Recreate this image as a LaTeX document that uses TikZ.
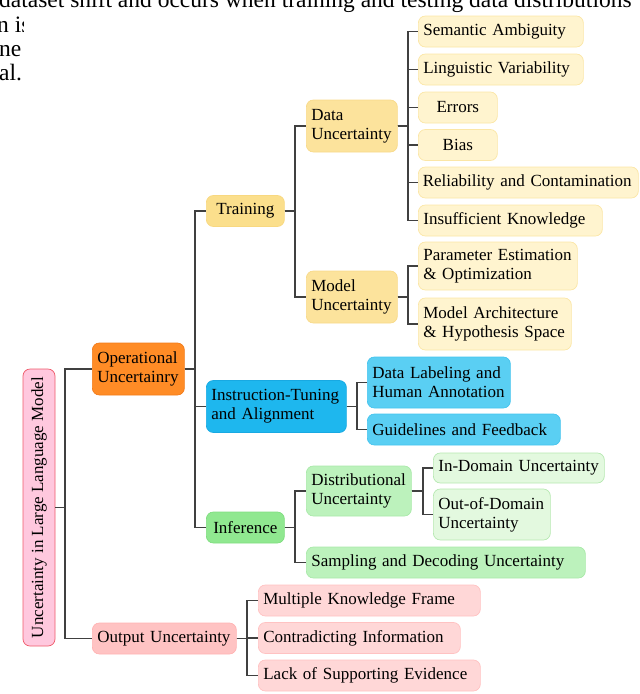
\documentclass[tikz,border=0pt]{standalone}
\usepackage{fontspec}
\setmainfont{Liberation Serif}
\usepackage{graphicx}
\usepackage{tikz}
\usetikzlibrary{positioning}
\definecolor{rootfill}{HTML}{FFC8DE}\definecolor{rootline}{HTML}{EF5A6A}
\definecolor{opfill}{HTML}{FF8C26}\definecolor{opline}{HTML}{F27B1A}
\definecolor{trnfill}{HTML}{FBDF8C}\definecolor{trnline}{HTML}{F8D880}
\definecolor{subfill}{HTML}{FCE39C}\definecolor{subline}{HTML}{F8DA8A}
\definecolor{lffill}{HTML}{FFF4CF}\definecolor{lfline}{HTML}{FBE6A6}
\definecolor{insfill}{HTML}{1EB7EE}\definecolor{insline}{HTML}{18A9E2}
\definecolor{inslffill}{HTML}{5ACFF3}\definecolor{inslfline}{HTML}{45C4EE}
\definecolor{inffill}{HTML}{90E890}\definecolor{infline}{HTML}{7FDD7F}
\definecolor{infsubfill}{HTML}{BCF2BC}\definecolor{infsubline}{HTML}{A9E9A9}
\definecolor{inflffill}{HTML}{E3F9DF}\definecolor{inflfline}{HTML}{B6E8B1}
\definecolor{outfill}{HTML}{FFC3C3}\definecolor{outline}{HTML}{FFB3B3}
\definecolor{outlffill}{HTML}{FFD7D7}\definecolor{outlfline}{HTML}{FFC2C2}
\definecolor{lnkcol}{HTML}{404040}
\tikzset{
  nd/.style={draw,rounded corners=7pt,line width=0.7pt,inner xsep=5pt,inner ysep=0pt,
    minimum height=31,align=left,anchor=west,font=\fontsize{17}{19}\selectfont},
  tall/.style={minimum height=52},
  rootnd/.style={nd,fill=rootfill,draw=rootline,anchor=center,align=center,
    minimum width=32,minimum height=277},
  opnd/.style={nd,fill=opfill,draw=opline},
  trnnd/.style={nd,fill=trnfill,draw=trnline},
  trnsub/.style={nd,fill=subfill,draw=subline},
  trnlf/.style={nd,fill=lffill,draw=lfline},
  insnd/.style={nd,fill=insfill,draw=insline},
  inslf/.style={nd,fill=inslffill,draw=inslfline},
  infnd/.style={nd,fill=inffill,draw=infline},
  infsub/.style={nd,fill=infsubfill,draw=infsubline},
  inflf/.style={nd,fill=inflffill,draw=inflfline},
  outnd/.style={nd,fill=outfill,draw=outline},
  outlf/.style={nd,fill=outlffill,draw=outlfline},
  lnk/.style={line width=1.8pt,draw=lnkcol},
  ptext/.style={anchor=base west,inner sep=0pt,font=\fontsize{23.5}{24}\selectfont},
}

\begin{document}
\begin{tikzpicture}[x=1pt,y=-1pt]
  \useasboundingbox (0,0) rectangle (640,694);
  \clip (0,0) rectangle (640,694);
  % page text around the figure
  \node[ptext] (pl1) at (-1,7) {dataset shift and occurs when training and testing data distributions};
  \begin{scope}
    \clip (0,13) rectangle (23,694);
    \node[ptext] (pl2) at (-3,32) {n is};
    \node[ptext] (pl3) at (-1,56) {ne};
    \node[ptext] (pl4) at (-1,80) {al.};
  \end{scope}
  % root
  \node[rootnd] (root) at (39,507.5) {\rotatebox{90}{Uncertainty in Large Language Model}};
  % level 1
  \node[opnd,tall,text width=82pt] (op) at (92,369) {Operational\\Uncertainry};
  \node[outnd,text width=134pt] (out) at (92,638.5) {Output Uncertainty};
  % level 2
  \node[trnnd,align=center,minimum width=78] (trn) at (206,211) {Training};
  \node[insnd,tall,text width=130pt] (ins) at (206,406.5) {Instruction-Tuning\\and Alignment};
  \node[infnd,align=center,minimum width=78] (inf) at (206,527.5) {Inference};
  % training branch
  \node[trnsub,tall,text width=81pt] (data) at (306,126) {Data\\Uncertainty};
  \node[trnsub,tall,text width=81pt] (model) at (306,297) {Model\\Uncertainty};
  \node[trnlf,text width=155pt] (sem) at (418,31.5) {Semantic Ambiguity};
  \node[trnlf,text width=155pt] (ling) at (418,69.5) {Linguistic Variability};
  \node[trnlf,align=center,minimum width=79] (err) at (418,107.5) {Errors};
  \node[trnlf,align=center,minimum width=79] (bias) at (418,145) {Bias};
  \node[trnlf,text width=211pt,inner xsep=4.5pt] (rel) at (418,182.5) {Reliability and Contamination};
  \node[trnlf,text width=174pt] (insuf) at (418,220.5) {Insufficient Knowledge};
  \node[trnlf,minimum height=48,text width=149pt] (param) at (418,266) {Parameter Estimation\\\& Optimization};
  \node[trnlf,tall,text width=143pt] (arch) at (418,324) {Model Architecture\\\& Hypothesis Space};
  % instruction-tuning branch
  \node[inslf,minimum height=51,text width=133pt] (lab) at (367,382.5) {Data Labeling and\\Human Annotation};
  \node[inslf,text width=183pt] (guide) at (367,429.5) {Guidelines and Feedback};
  % inference branch
  \node[infsub,minimum height=50,text width=95pt] (dist) at (306,491) {Distributional\\Uncertainty};
  \node[infsub,text width=269pt] (samp) at (306,562.5) {Sampling and Decoding Uncertainty};
  \node[inflf,minimum height=30,text width=161pt] (indom) at (433,468) {In-Domain Uncertainty};
  \node[inflf,minimum height=51,text width=107pt] (outdom) at (433,514.5) {Out-of-Domain\\Uncertainty};
  % output branch
  \node[outlf,text width=212pt] (mkf) at (258,600.5) {Multiple Knowledge Frame};
  \node[outlf,text width=192pt] (contra) at (258,638) {Contradicting Information};
  \node[outlf,text width=212pt] (lack) at (258,675.5) {Lack of Supporting Evidence};
  % links
  \foreach \c in {op,out} \draw[lnk] (root.east) -- ++(10,0) |- (\c.west);
  \foreach \c in {trn,ins,inf} \draw[lnk] (op.east) -- ++(10,0) |- (\c.west);
  \foreach \c in {data,model} \draw[lnk] (trn.east) -- ++(10,0) |- (\c.west);
  \foreach \c in {sem,ling,err,bias,rel,insuf} \draw[lnk] (data.east) -- ++(10,0) |- (\c.west);
  \foreach \c in {param,arch} \draw[lnk] (model.east) -- ++(10,0) |- (\c.west);
  \foreach \c in {lab,guide} \draw[lnk] (ins.east) -- ++(10,0) |- (\c.west);
  \foreach \c in {dist,samp} \draw[lnk] (inf.east) -- ++(10,0) |- (\c.west);
  \foreach \c in {indom,outdom} \draw[lnk] (dist.east) -- ++(11,0) |- (\c.west);
  \foreach \c in {mkf,contra,lack} \draw[lnk] (out.east) -- ++(10,0) |- (\c.west);
\end{tikzpicture}
\end{document}
